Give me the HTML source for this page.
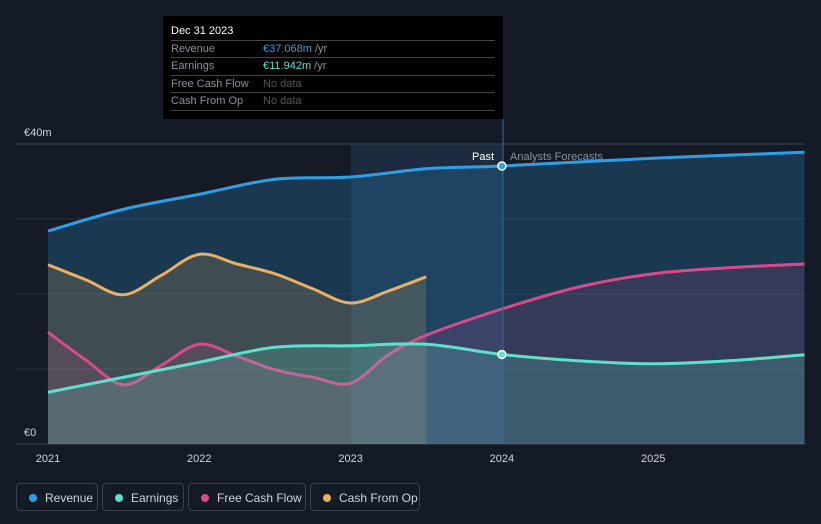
<!DOCTYPE html>
<html><head><meta charset="utf-8"><style>
body{margin:0;background:#151b26;width:821px;height:524px;overflow:hidden;font-family:"Liberation Sans",sans-serif}
.leg{position:absolute;top:483px;height:28px;border:1px solid #3a414d;border-radius:4px;color:#d0d4da;font-size:12px;line-height:28px;box-sizing:border-box;padding-left:28px}
.leg i{position:absolute;left:12px;top:10px;width:8px;height:8px;border-radius:50%}
</style></head><body>
<svg id="c" width="821" height="524" style="position:absolute;left:0;top:0"></svg>
<div style="position:absolute;left:163px;top:16px;width:340px;height:103px;background:#000;font-size:11px;color:#8a9099">
<div style="position:absolute;left:8px;top:9px;color:#fff;font-size:11px">Dec 31 2023</div>
<div style="position:absolute;left:8px;right:8px;top:24px;border-top:1px solid #444"></div>
<div style="position:absolute;left:8px;top:27px">Revenue</div><div style="position:absolute;left:100px;top:27px"><span style="color:#2e9fe6">€37.068m</span> /yr</div>
<div style="position:absolute;left:8px;right:8px;top:41px;border-top:1px solid #444"></div>
<div style="position:absolute;left:8px;top:44px">Earnings</div><div style="position:absolute;left:100px;top:44px"><span style="color:#5ee0cc">€11.942m</span> /yr</div>
<div style="position:absolute;left:8px;right:8px;top:59px;border-top:1px solid #444"></div>
<div style="position:absolute;left:8px;top:62px">Free Cash Flow</div><div style="position:absolute;left:100px;top:62px;color:#555">No data</div>
<div style="position:absolute;left:8px;right:8px;top:76px;border-top:1px solid #444"></div>
<div style="position:absolute;left:8px;top:79px">Cash From Op</div><div style="position:absolute;left:100px;top:79px;color:#555">No data</div>
<div style="position:absolute;left:8px;right:8px;top:94px;border-top:1px solid #444"></div>
</div>
<div class="leg" style="left:16px;width:82px"><i style="background:#2e9fe6"></i>Revenue</div>
<div class="leg" style="left:102px;width:82px"><i style="background:#5ee0cc"></i>Earnings</div>
<div class="leg" style="left:188px;width:118px"><i style="background:#d94a8c"></i>Free Cash Flow</div>
<div class="leg" style="left:310px;width:110px"><i style="background:#e8b060"></i>Cash From Op</div>
<script>
const revX=[2021,2021.5,2022,2022.5,2023,2023.5,2024,2025,2026];
const revY=[28.4,31.3,33.3,35.3,35.6,36.7,37.07,38.1,38.9];
const earX=[2021,2021.5,2022,2022.5,2023,2023.5,2024,2024.5,2025,2025.5,2026];
const earY=[6.9,8.9,10.9,12.9,13.1,13.3,11.94,11.1,10.7,11.1,11.9];
const fcfX=[2021,2021.25,2021.5,2021.75,2022,2022.25,2022.5,2022.75,2023,2023.25,2023.5,2024,2024.5,2025,2025.5,2026];
const fcfY=[14.9,11.2,7.9,10.5,13.3,11.7,9.9,8.9,8.1,11.9,14.5,18.0,20.9,22.7,23.5,24.0];
const cfoX=[2021,2021.25,2021.5,2021.75,2022,2022.25,2022.5,2022.75,2023,2023.25,2023.5];
const cfoY=[23.9,21.9,19.9,22.5,25.3,24.0,22.7,20.7,18.8,20.4,22.3];
const yTicks=[0,10,20,30,40];
const xTicks=[2021,2022,2023,2024,2025];
const sx=v=>48+(v-2021)*151.3, sy=v=>444-v*7.5;
const svg=document.getElementById('c');const NS='http://www.w3.org/2000/svg';
function mk(t,a,p){const e=document.createElementNS(NS,t);for(const k in a)e.setAttribute(k,a[k]);(p||svg).appendChild(e);return e;}
let r=mk('rect',{x:351,y:144,width:152,height:300,fill:'#1c2b3d'});

yTicks.forEach(v=>{const l=mk('line',{x1:16,x2:805,y1:sy(v),y2:sy(v),stroke:v==0||v==40?'#3d4450':'#2a313c'});
});
function path(X,Y){const p=X.map((x,i)=>[sx(x),sy(Y[i])]);let d='M'+p[0];for(let i=0;i<p.length-1;i++){const a=p[i-1]||p[i],b=p[i],c=p[i+1],e=p[i+2]||c;
d+=' C'+(b[0]+(c[0]-a[0])/6)+','+(b[1]+(c[1]-a[1])/6)+' '+(c[0]-(e[0]-b[0])/6)+','+(c[1]-(e[1]-b[1])/6)+' '+c;}return {d,p};}
function series(X,Y,col,name,op){const {d,p}=path(X,Y);
const a=mk('path',{d:d+' L'+p[p.length-1][0]+',444 L'+p[0][0]+',444 Z',fill:col,'fill-opacity':op});

const l=mk('path',{d,fill:'none',stroke:col,'stroke-width':3});
}
series(revX,revY,'#2e9fe6','revenue',0.22);
series(cfoX,cfoY,'#e8b060','cash-from-op',0.18);
series(fcfX,fcfY,'#d94a8c','free-cash-flow',0.15);
series(earX,earY,'#5ee0cc','earnings',0.2);
let vl=mk('line',{x1:503,x2:503,y1:119,y2:444,stroke:'#2e6d9e'});

[[revY[6],'#2e9fe6'],[earY[6],'#5ee0cc']].forEach(([v,c])=>{const m=mk('circle',{cx:sx(2024),cy:sy(v),r:4,fill:c,stroke:'#fff','stroke-width':1.5});
});
function txt(x,y,s,fill,anchor,size,name){const t=mk('text',{x,y,fill,'font-size':size||11,'text-anchor':anchor||'start','font-family':'Liberation Sans, sans-serif'});t.textContent=s;
return t;}
txt(24,136,'€40m','#d0d4da','start',11,'y-label-top');
txt(24,436,'€0','#d0d4da','start',11,'y-label-zero');
xTicks.forEach(v=>txt(sx(v),462,String(v),'#d0d4da','middle',11,'x-tick'));
txt(494,160,'Past','#fff','end',11,'past-label');
txt(510,160,'Analysts Forecasts','#8a9099','start',11,'forecast-label');
</script>
</body></html>
